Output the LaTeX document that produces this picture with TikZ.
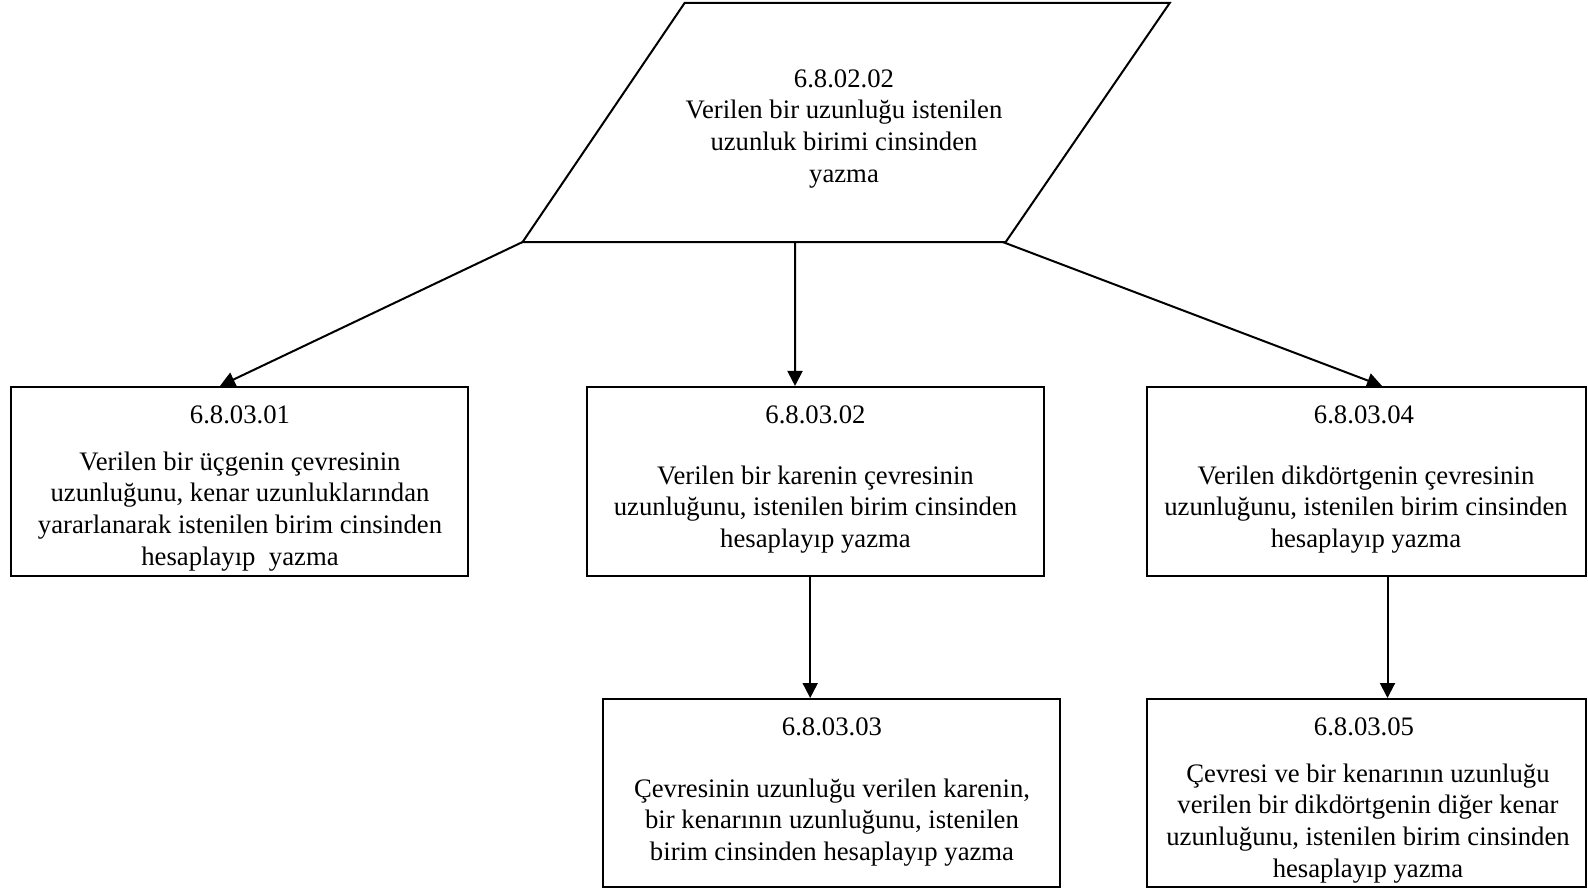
\documentclass[tikz,border=0pt]{standalone}
\usepackage{fontspec}
\setmainfont{Liberation Serif}
\usetikzlibrary{arrows.meta,calc}
\begin{document}
\begin{tikzpicture}[x=1pt,y=-1pt,
  box/.style={draw,line width=2pt,rectangle,inner sep=0pt},
  code/.style={anchor=base,inner sep=0pt,font=\fontsize{26.7}{31.6}\selectfont},
  desc/.style={anchor=north,inner sep=0pt,align=center,font=\fontsize{26.7}{31.6}\selectfont},
  arr/.style={line width=2pt,-{Triangle[length=15pt,width=15pt]}}]
\useasboundingbox (0,0) rectangle (1588,888);

% top objective: parallelogram
\coordinate (TL) at (684.6,3);
\coordinate (TR) at (1169.7,3);
\coordinate (BR) at (1005.7,242);
\coordinate (BL) at (522.6,242);
\draw[line width=2pt,line join=miter] (TL) -- (TR) -- (BR) -- (BL) -- cycle;
\node[desc] (top) at (844,65) {\strut 6.8.02.02\\Verilen bir uzunluğu istenilen\\uzunluk birimi cinsinden\\yazma};

% objective boxes
\node[box,minimum width=457pt,minimum height=189.5pt] (b1) at (239.5,481.7) {};
\node[box,minimum width=457pt,minimum height=189.5pt] (b2) at (815.8,481.7) {};
\node[box,minimum width=439pt,minimum height=189.5pt] (b3) at (1366.5,481.7) {};
\node[box,minimum width=457pt,minimum height=188pt] (b4) at (831.5,793) {};
\node[box,minimum width=439pt,minimum height=188pt] (b5) at (1366.5,793) {};

\node[code] (c1) at (240,423.2) {6.8.03.01};
\node[desc] (d1) at (240,447.9) {\strut Verilen bir üçgenin çevresinin\\uzunluğunu, kenar uzunluklarından\\yararlanarak istenilen birim cinsinden\\hesaplayıp\ \ yazma};

\node[code] (c2) at (815.5,423.2) {6.8.03.02};
\node[desc] (d2) at (815.5,461.9) {\strut Verilen bir karenin çevresinin\\uzunluğunu, istenilen birim cinsinden\\hesaplayıp yazma};

\node[code] (c3) at (1364,423.2) {6.8.03.04};
\node[desc] (d3) at (1366,461.9) {\strut Verilen dikdörtgenin çevresinin\\uzunluğunu, istenilen birim cinsinden\\hesaplayıp yazma};

\node[code] (c4) at (832,735.2) {6.8.03.03};
\node[desc] (d4) at (832,774.8) {\strut Çevresinin uzunluğu verilen karenin,\\bir kenarının uzunluğunu, istenilen\\birim cinsinden hesaplayıp yazma};

\node[code] (c5) at (1364,735.2) {6.8.03.05};
\node[desc] (d5) at (1368,760) {\strut Çevresi ve bir kenarının uzunluğu\\verilen bir dikdörtgenin diğer kenar\\uzunluğunu, istenilen birim cinsinden\\hesaplayıp yazma};

% connectors
\draw[arr] (BL) -- ([xshift=210pt]b1.north west);
\draw[arr] ($(BL)!0.564!(BR)$) -- ([xshift=-20.8pt]b2.north);
\draw[arr] ([xshift=-3pt]BR) -- ([xshift=236pt]b3.north west);
\draw[arr] ([xshift=-5.6pt]b2.south) -- ([xshift=-21.3pt]b4.north);
\draw[arr] ([xshift=21pt]b3.south) -- ([xshift=21pt]b5.north);
\end{tikzpicture}
\end{document}
